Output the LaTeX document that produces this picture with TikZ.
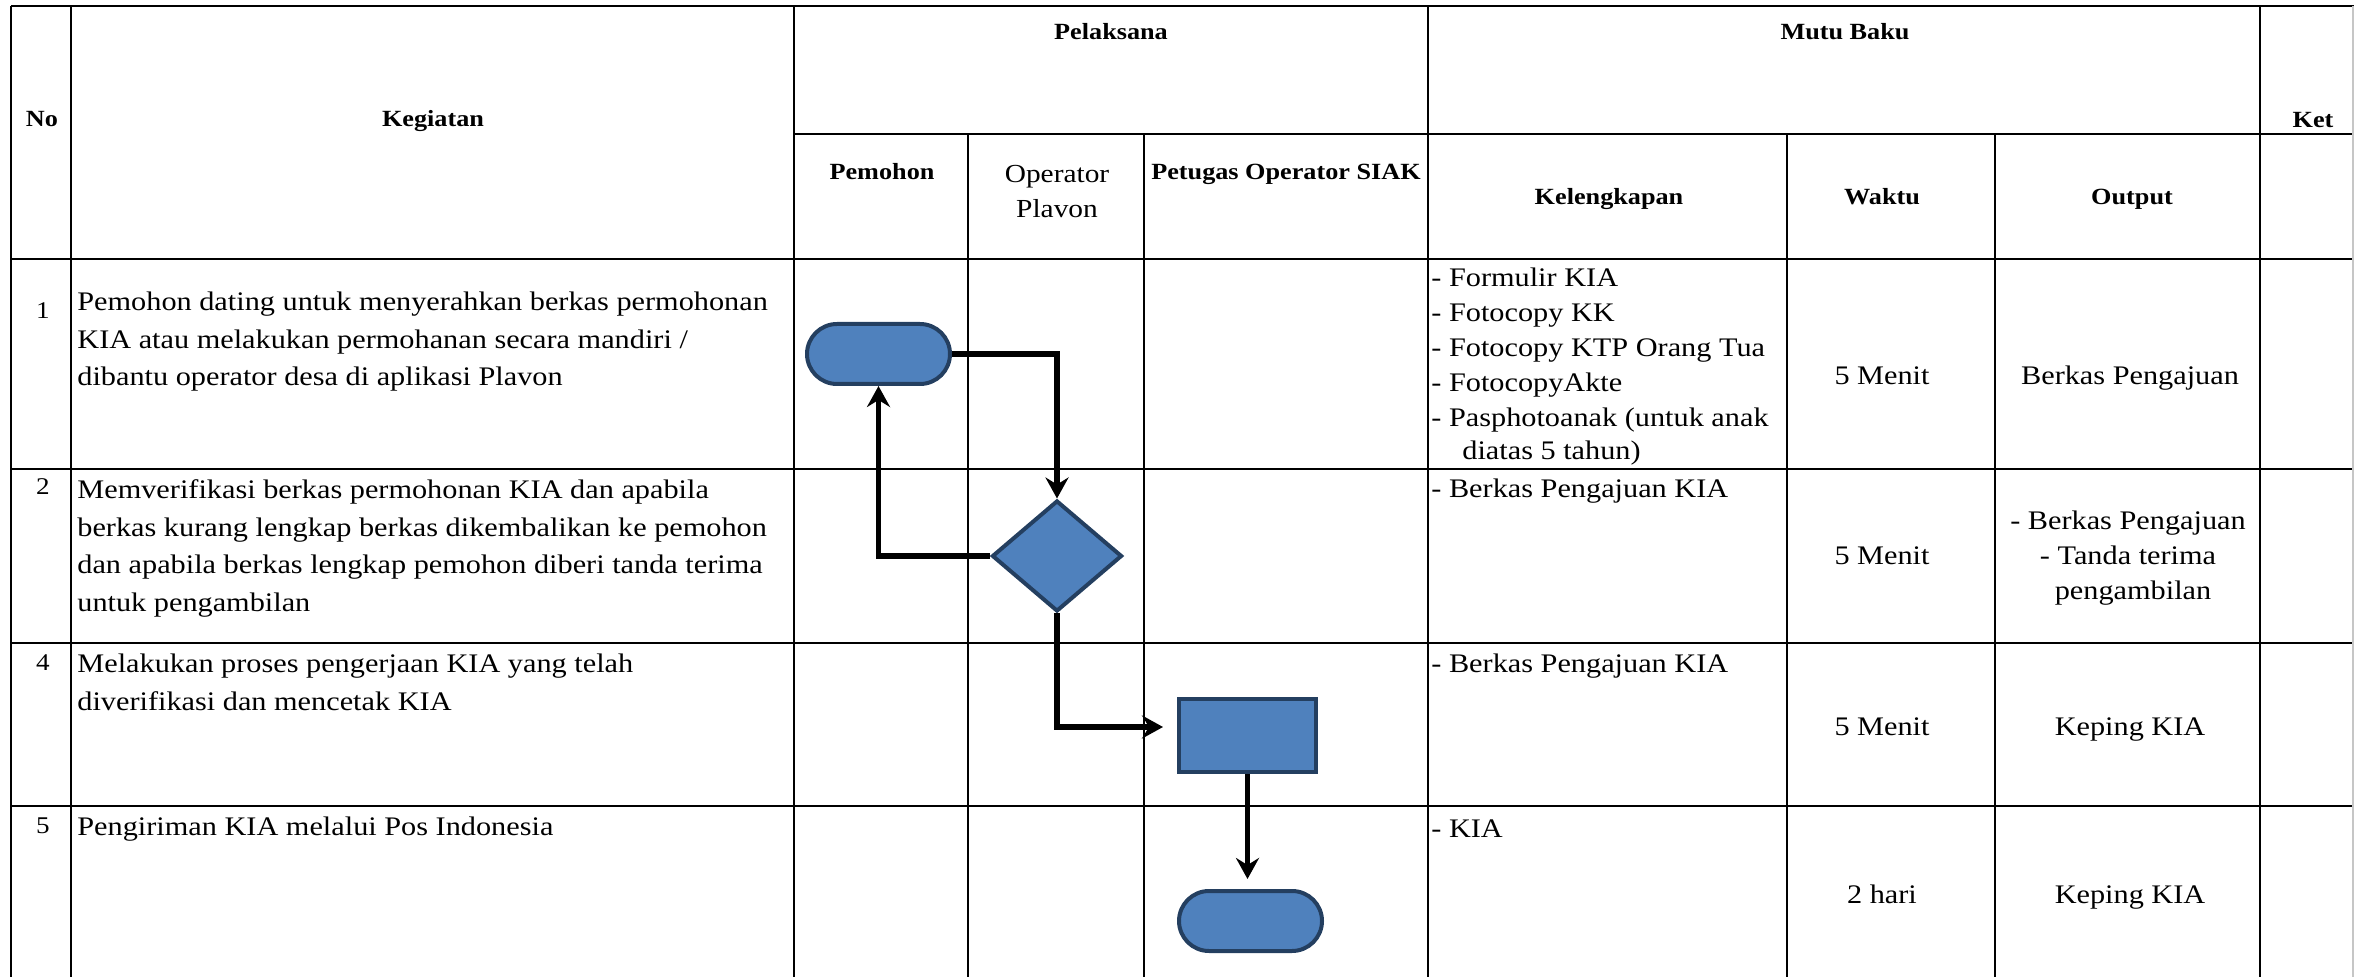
\documentclass[tikz,border=0pt]{standalone}
\usepackage{fontspec}
\setmainfont{Liberation Serif}[FakeStretch=1.13]
\usetikzlibrary{arrows.meta,shapes.geometric,shapes.misc}
\definecolor{flowfill}{HTML}{4F81BD}
\definecolor{flowedge}{HTML}{243F60}
\begin{document}
\begin{tikzpicture}[x=0.5pt,y=-0.5pt,
  grid/.style={line width=1pt},
  txt/.style={inner sep=0pt, anchor=base west, font=\fontsize{13.4}{16}\selectfont},
  ctr/.style={inner sep=0pt, anchor=base, font=\fontsize{13.4}{16}\selectfont},
  hdr/.style={inner sep=0pt, anchor=base, font=\fontsize{11.6}{14}\selectfont\bfseries},
  num/.style={inner sep=0pt, anchor=base, font=\fontsize{12}{14}\selectfont},
  term/.style={rounded rectangle, draw=flowedge, fill=flowfill, line width=2pt,
    minimum width=71.5pt, minimum height=30pt, inner sep=0pt},
  proc/.style={rectangle, draw=flowedge, fill=flowfill, line width=2pt,
    minimum width=68.5pt, minimum height=36.5pt, inner sep=0pt},
  dec/.style={diamond, draw=flowedge, fill=flowfill, line width=2pt,
    minimum width=65pt, minimum height=55.5pt, inner sep=0pt},
  flow/.style={line width=2.7pt, -{Stealth[length=10.5pt,width=11.5pt,inset=3.5pt]}}
]
\useasboundingbox (0,0) rectangle (2354,977);

% table rules
\draw[grid] (11,6) -- (2354,6);
\draw[grid] (794,134) -- (2354,134);
\draw[grid] (11,259) -- (2354,259);
\draw[grid] (11,469) -- (2354,469);
\draw[grid] (11,643) -- (2354,643);
\draw[grid] (11,806) -- (2354,806);
\draw[grid] (11,6) -- (11,977);
\draw[grid] (70.5,6) -- (70.5,977);
\draw[grid] (794,6) -- (794,977);
\draw[grid] (968,134) -- (968,977);
\draw[grid] (1144,134) -- (1144,977);
\draw[grid] (1428,6) -- (1428,977);
\draw[grid] (1787,134) -- (1787,977);
\draw[grid] (1995,134) -- (1995,977);
\draw[grid] (2260,6) -- (2260,977);
\draw[gray!45, line width=0.6pt] (2353,6) -- (2353,977);

% header
\node[hdr] (hno) at (42,127) {No};
\node[hdr] (hkeg) at (433,127) {Kegiatan};
\node[hdr] (hpel) at (1111,40) {Pelaksana};
\node[hdr] (hmutu) at (1845,40) {Mutu Baku};
\node[hdr] (hket) at (2313,128) {Ket};
\node[hdr] (hpem) at (882,180) {Pemohon};
\node[num, font=\fontsize{13}{15}\selectfont] (hopa) at (1057,183) {Operator};
\node[num, font=\fontsize{13}{15}\selectfont] (hopb) at (1057,218) {Plavon};
\node[hdr] (hsiak) at (1286,180) {Petugas Operator SIAK};
\node[hdr] (hkel) at (1609,205) {Kelengkapan};
\node[hdr] (hwak) at (1882,205) {Waktu};
\node[hdr] (hout) at (2132,205) {Output};

% row numbers
\node[num] (n1) at (43,319) {1};
\node[num] (n2) at (43,495) {2};
\node[num] (n4) at (43,670) {4};
\node[num] (n5) at (43,833) {5};

% activities
\node[txt] (a1a) at (77,311) {Pemohon dating untuk menyerahkan berkas permohonan};
\node[txt] (a1b) at (77,349) {KIA atau melakukan permohanan secara mandiri /};
\node[txt] (a1c) at (77,386) {dibantu operator desa di aplikasi Plavon};
\node[txt] (a2a) at (77,499) {Memverifikasi berkas permohonan KIA dan apabila};
\node[txt] (a2b) at (77,537) {berkas kurang lengkap berkas dikembalikan ke pemohon};
\node[txt] (a2c) at (77,574) {dan apabila berkas lengkap pemohon diberi tanda terima};
\node[txt] (a2d) at (77,612) {untuk pengambilan};
\node[txt] (a3a) at (77,673) {Melakukan proses pengerjaan KIA yang telah};
\node[txt] (a3b) at (77,710) {diverifikasi dan mencetak KIA};
\node[txt] (a4a) at (77,835) {Pengiriman KIA melalui Pos Indonesia};

% requirements
\node[txt] (k1a) at (1431,287) {- Formulir KIA};
\node[txt] (k1b) at (1431,322) {- Fotocopy KK};
\node[txt] (k1c) at (1431,357) {- Fotocopy KTP Orang Tua};
\node[txt] (k1d) at (1431,392) {- FotocopyAkte};
\node[txt] (k1e) at (1431,427) {- Pasphotoanak (untuk anak};
\node[txt] (k1f) at (1462,460) {diatas 5 tahun)};
\node[txt] (k2a) at (1431,498) {- Berkas Pengajuan KIA};
\node[txt] (k3a) at (1431,673) {- Berkas Pengajuan KIA};
\node[txt] (k4a) at (1431,837) {- KIA};

% time
\node[ctr] (w1) at (1882,385) {5 Menit};
\node[ctr] (w2) at (1882,565) {5 Menit};
\node[ctr] (w3) at (1882,735) {5 Menit};
\node[ctr] (w4) at (1882,903) {2 hari};

% output
\node[ctr] (o1) at (2130,385) {Berkas Pengajuan};
\node[ctr] (o2a) at (2128,530) {- Berkas Pengajuan};
\node[ctr] (o2b) at (2128,565) {- Tanda terima};
\node[ctr] (o2c) at (2133,600) {pengambilan};
\node[ctr] (o3) at (2130,735) {Keping KIA};
\node[ctr] (o4) at (2130,903) {Keping KIA};

% flowchart symbols
\node[term] (t1) at (878.5,354) {};
\node[dec] (d1) at (1057,556) {};
\node[proc] (p1) at (1247.5,735.5) {};
\node[term] (t2) at (1250.5,921) {};

% flowchart connectors
\draw[flow] (t1.east) -| (d1.north);
\draw[flow] (d1.west) -| (t1.south);
\draw[flow, shorten >=7pt] (d1.south) |- ([yshift=4.25pt]p1.west);
\draw[flow, shorten >=5pt] (p1.south) -- (p1.south |- t2.north);
\end{tikzpicture}
\end{document}
